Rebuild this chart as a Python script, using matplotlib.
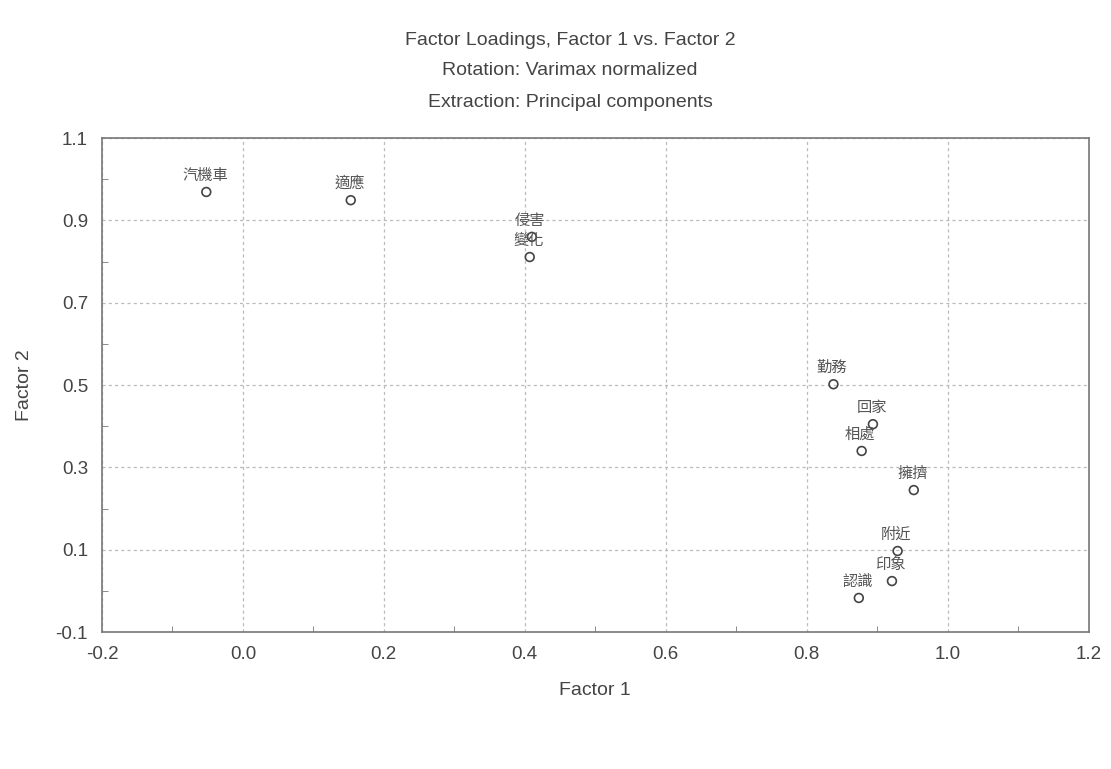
import matplotlib
matplotlib.use("Agg")
import matplotlib.pyplot as plt
from matplotlib.ticker import MultipleLocator

plt.rcParams['font.family'] = ['Liberation Sans', 'Noto Sans CJK TC', 'DejaVu Sans']

labels = ['汽機車', '適應', '侵害', '變化', '勤務', '回家', '相處', '擁擠', '附近', '印象', '認識']
factor1 = [-0.052, 0.153, 0.41, 0.407, 0.838, 0.894, 0.878, 0.952, 0.929, 0.921, 0.874]
factor2 = [0.969, 0.949, 0.86, 0.811, 0.502, 0.405, 0.340, 0.245, 0.097, 0.024, -0.017]

xticks = [-0.2, 0.0, 0.2, 0.4, 0.6, 0.8, 1.0, 1.2]
yticks = [-0.1, 0.1, 0.3, 0.5, 0.7, 0.9, 1.1]

fig = plt.figure(figsize=(11.11, 7.69), dpi=100)
ax = fig.add_axes([0.0918, 0.178, 0.888, 0.6425])

ax.scatter(factor1, factor2, s=40, facecolors='none', edgecolors='#444444', linewidths=1.2, zorder=3)
for name, x, y in zip(labels, factor1, factor2):
    ax.annotate(name, (x, y), xytext=(-1, 6), textcoords='offset points',
                ha='center', va='bottom', fontsize=11, color='#555555',
                family=['Noto Sans CJK TC', 'DejaVu Sans'], zorder=4)

ax.set_xlim(-0.2, 1.2)
ax.set_ylim(-0.1, 1.1)
ax.set_xticks(xticks)
ax.set_yticks(yticks)
ax.set_xticklabels([f'{v:.1f}' for v in xticks])
ax.set_yticklabels([f'{v:.1f}' for v in yticks])
ax.xaxis.set_minor_locator(MultipleLocator(0.1))
ax.yaxis.set_minor_locator(MultipleLocator(0.1))
ax.tick_params(which='both', direction='in', colors='#777777', labelcolor='#444444', labelsize=13.5)
ax.tick_params(which='major', length=0, pad=10)
ax.tick_params(which='minor', length=4)
ax.grid(True, which='major', linestyle=(0, (2.5, 2.5)), color='#bbbbbb', linewidth=0.9)
for sp in ax.spines.values():
    sp.set_color('#777777')
    sp.set_linewidth(1.2)

ax.set_xlabel('Factor 1', fontsize=14, color='#444444', labelpad=14)
ax.set_ylabel('Factor 2', fontsize=14, color='#444444', labelpad=16)

fig.text(0.513, 0.947, 'Factor Loadings, Factor 1 vs. Factor 2', ha='center', va='center', fontsize=14, color='#444444')
fig.text(0.513, 0.908, 'Rotation: Varimax normalized', ha='center', va='center', fontsize=14, color='#444444')
fig.text(0.513, 0.867, 'Extraction: Principal components', ha='center', va='center', fontsize=14, color='#444444')

fig.savefig('out.png', dpi=100)
